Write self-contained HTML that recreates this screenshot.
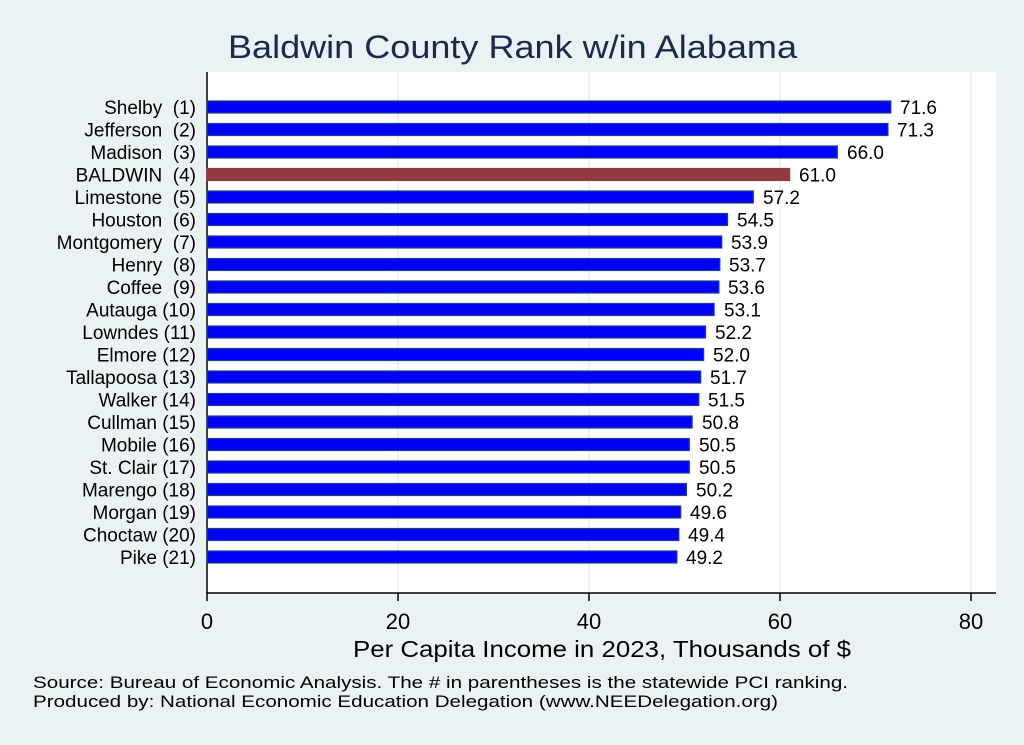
<!DOCTYPE html>
<html><head><meta charset="utf-8"><style>
html,body{margin:0;padding:0;background:#eaf2f3;}
svg{display:block;font-family:"Liberation Sans",Arial,sans-serif;}
</style></head><body>
<svg width="1024" height="745" viewBox="0 0 1024 745">
<rect width="1024" height="745" fill="#eaf2f3"/>
<text x="228" y="58" font-size="32" fill="#1a2a4f" textLength="569" lengthAdjust="spacingAndGlyphs">Baldwin County Rank w/in Alabama</text>
<rect x="207" y="72" width="789" height="521" fill="#ffffff"/>
<g stroke="#e6eef2" stroke-width="1.5">
<line x1="398" y1="72" x2="398" y2="593"/><line x1="589" y1="72" x2="589" y2="593"/><line x1="780" y1="72" x2="780" y2="593"/><line x1="971" y1="72" x2="971" y2="593"/>
</g>
<line x1="207" y1="72" x2="207" y2="593" stroke="#000" stroke-width="1.5"/>
<line x1="206" y1="593" x2="996" y2="593" stroke="#000" stroke-width="1.5"/>
<g stroke="#000" stroke-width="1.5">
<line x1="207" y1="593" x2="207" y2="601"/><line x1="398" y1="593" x2="398" y2="601"/><line x1="589" y1="593" x2="589" y2="601"/><line x1="780" y1="593" x2="780" y2="601"/><line x1="971" y1="593" x2="971" y2="601"/>
</g>
<g font-size="22" text-anchor="middle" fill="#000">
<text x="207" y="629">0</text><text x="398" y="629">20</text><text x="589" y="629">40</text><text x="780" y="629">60</text><text x="971" y="629">80</text>
</g>
<text x="353" y="657" font-size="23" textLength="498" lengthAdjust="spacingAndGlyphs">Per Capita Income in 2023, Thousands of $</text>
<text x="33" y="688" font-size="17" textLength="815" lengthAdjust="spacingAndGlyphs">Source: Bureau of Economic Analysis. The # in parentheses is the statewide PCI ranking.</text>
<text x="33" y="707" font-size="17" textLength="745" lengthAdjust="spacingAndGlyphs">Produced by: National Economic Education Delegation (www.NEEDelegation.org)</text>
<g font-size="19" fill="#000">
<text x="196" y="114" text-anchor="end" xml:space="preserve">Shelby  (1)</text>
<text x="196" y="136.5" text-anchor="end" xml:space="preserve">Jefferson  (2)</text>
<text x="196" y="159" text-anchor="end" xml:space="preserve">Madison  (3)</text>
<text x="196" y="181.5" text-anchor="end" xml:space="preserve">BALDWIN  (4)</text>
<text x="196" y="204" text-anchor="end" xml:space="preserve">Limestone  (5)</text>
<text x="196" y="226.5" text-anchor="end" xml:space="preserve">Houston  (6)</text>
<text x="196" y="249" text-anchor="end" xml:space="preserve">Montgomery  (7)</text>
<text x="196" y="271.5" text-anchor="end" xml:space="preserve">Henry  (8)</text>
<text x="196" y="294" text-anchor="end" xml:space="preserve">Coffee  (9)</text>
<text x="196" y="316.5" text-anchor="end">Autauga (10)</text>
<text x="196" y="339" text-anchor="end">Lowndes (11)</text>
<text x="196" y="361.5" text-anchor="end">Elmore (12)</text>
<text x="196" y="384" text-anchor="end">Tallapoosa (13)</text>
<text x="196" y="406.5" text-anchor="end">Walker (14)</text>
<text x="196" y="429" text-anchor="end">Cullman (15)</text>
<text x="196" y="451.5" text-anchor="end">Mobile (16)</text>
<text x="196" y="474" text-anchor="end">St. Clair (17)</text>
<text x="196" y="496.5" text-anchor="end">Marengo (18)</text>
<text x="196" y="519" text-anchor="end">Morgan (19)</text>
<text x="196" y="541.5" text-anchor="end">Choctaw (20)</text>
<text x="196" y="564" text-anchor="end">Pike (21)</text>
</g>
<g stroke="#1c3f8a" stroke-width="1.2">
<rect x="207" y="101" width="683.8" height="12" fill="#0000ff"/>
<rect x="207" y="123.5" width="680.9" height="12" fill="#0000ff"/>
<rect x="207" y="146" width="630.3" height="12" fill="#0000ff"/>
<rect x="207" y="168.5" width="582.6" height="12" fill="#913a40" stroke="#913a40"/>
<rect x="207" y="191" width="546.3" height="12" fill="#0000ff"/>
<rect x="207" y="213.5" width="520.5" height="12" fill="#0000ff"/>
<rect x="207" y="236" width="514.7" height="12" fill="#0000ff"/>
<rect x="207" y="258.5" width="512.8" height="12" fill="#0000ff"/>
<rect x="207" y="281" width="511.9" height="12" fill="#0000ff"/>
<rect x="207" y="303.5" width="507.1" height="12" fill="#0000ff"/>
<rect x="207" y="326" width="498.5" height="12" fill="#0000ff"/>
<rect x="207" y="348.5" width="496.6" height="12" fill="#0000ff"/>
<rect x="207" y="371" width="493.7" height="12" fill="#0000ff"/>
<rect x="207" y="393.5" width="491.8" height="12" fill="#0000ff"/>
<rect x="207" y="416" width="485.1" height="12" fill="#0000ff"/>
<rect x="207" y="438.5" width="482.3" height="12" fill="#0000ff"/>
<rect x="207" y="461" width="482.3" height="12" fill="#0000ff"/>
<rect x="207" y="483.5" width="479.4" height="12" fill="#0000ff"/>
<rect x="207" y="506" width="473.7" height="12" fill="#0000ff"/>
<rect x="207" y="528.5" width="471.8" height="12" fill="#0000ff"/>
<rect x="207" y="551" width="469.9" height="12" fill="#0000ff"/>
</g>
<g font-size="19" fill="#000">
<text x="900" y="114">71.6</text>
<text x="897" y="136.5">71.3</text>
<text x="847" y="159">66.0</text>
<text x="799" y="181.5">61.0</text>
<text x="763" y="204">57.2</text>
<text x="737" y="226.5">54.5</text>
<text x="731" y="249">53.9</text>
<text x="729" y="271.5">53.7</text>
<text x="728" y="294">53.6</text>
<text x="724" y="316.5">53.1</text>
<text x="715" y="339">52.2</text>
<text x="713" y="361.5">52.0</text>
<text x="710" y="384">51.7</text>
<text x="708" y="406.5">51.5</text>
<text x="702" y="429">50.8</text>
<text x="699" y="451.5">50.5</text>
<text x="699" y="474">50.5</text>
<text x="696" y="496.5">50.2</text>
<text x="690" y="519">49.6</text>
<text x="688" y="541.5">49.4</text>
<text x="686" y="564">49.2</text>
</g>
</svg>
</body></html>
